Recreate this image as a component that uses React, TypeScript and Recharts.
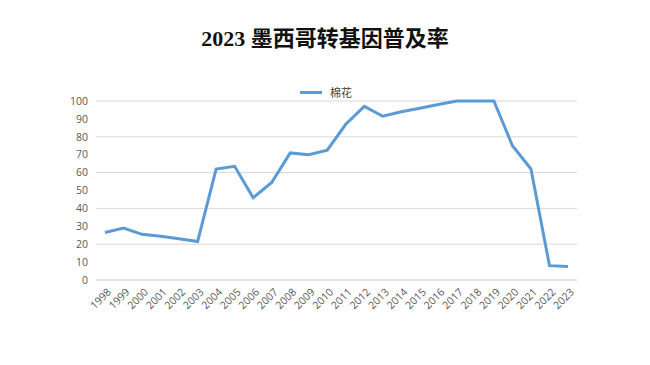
import React from 'react';
import { LineChart, Line, XAxis, YAxis, CartesianGrid, Legend } from 'recharts';

const years = ['1998','1999','2000','2001','2002','2003','2004','2005','2006','2007','2008','2009','2010','2011','2012','2013','2014','2015','2016','2017','2018','2019','2020','2021','2022','2023'];
const cotton = [26.5,29,25.5,24.5,23,21.5,62,63.5,46,54.5,71,70,72.5,87,97,91.5,94,96,98,100,100,100,75,62,8,7.5];
const yTicks = [0,10,20,30,40,50,60,70,80,90,100];
const title = '2023 墨西哥转基因普及率';
const seriesName = '棉花';

const data = years.map((y, i) => ({ year: y, cotton: cotton[i] }));

const XTick = (props: any) => {
  const { x, y, payload } = props;
  return (
    <g transform={`translate(${x + 4},${y + 2})`}>
      <text x={0} y={0} dy={4} textAnchor="end" transform="rotate(-45)" fontSize={10.5} fill="#595959" fontFamily="'Open Sans', 'Noto Sans', sans-serif">
        {payload.value}
      </text>
    </g>
  );
};

const LegendContent = () => (
  <div style={{ display: 'flex', alignItems: 'center', fontFamily: "'Noto Sans CJK SC', sans-serif", fontSize: 11, color: '#404040' }}>
    <span style={{ display: 'inline-block', width: 22, height: 3, background: '#5b9bd5', marginRight: 8 }} />
    <span>{seriesName}</span>
  </div>
);

export default function App() {
  return (
    <div style={{ position: 'fixed', left: 0, top: 0, width: 650, height: 365, background: '#fff' }}>
      <div style={{ position: 'absolute', left: 0, top: 24, width: 650, textAlign: 'center', fontSize: 22, fontWeight: 'bold', color: '#111', fontFamily: "'Liberation Serif', 'Noto Sans CJK SC', serif", lineHeight: '30px' }}>
        {title}
      </div>
      <LineChart width={650} height={365} data={data} margin={{ top: 101, right: 73, bottom: 25, left: 0 }}>
        <CartesianGrid vertical={false} stroke="#d9d9d9" />
        <XAxis dataKey="year" interval={0} height={60} padding={{ left: 9, right: 9 }} tick={<XTick />} tickLine={false} axisLine={{ stroke: '#d9d9d9' }} />
        <YAxis domain={[0, 100]} ticks={yTicks} width={96} axisLine={false} tickLine={false} tick={{ fontSize: 10.5, fill: '#595959', fontFamily: "'Open Sans', 'Noto Sans', sans-serif" }} />
        <Legend verticalAlign="middle" layout="horizontal" content={<LegendContent />} wrapperStyle={{ position: 'absolute', top: 84, left: 300, width: 'auto' }} />
        <Line type="linear" dataKey="cotton" name={seriesName} stroke="#5b9bd5" strokeWidth={3} dot={false} isAnimationActive={false} />
      </LineChart>
    </div>
  );
}
